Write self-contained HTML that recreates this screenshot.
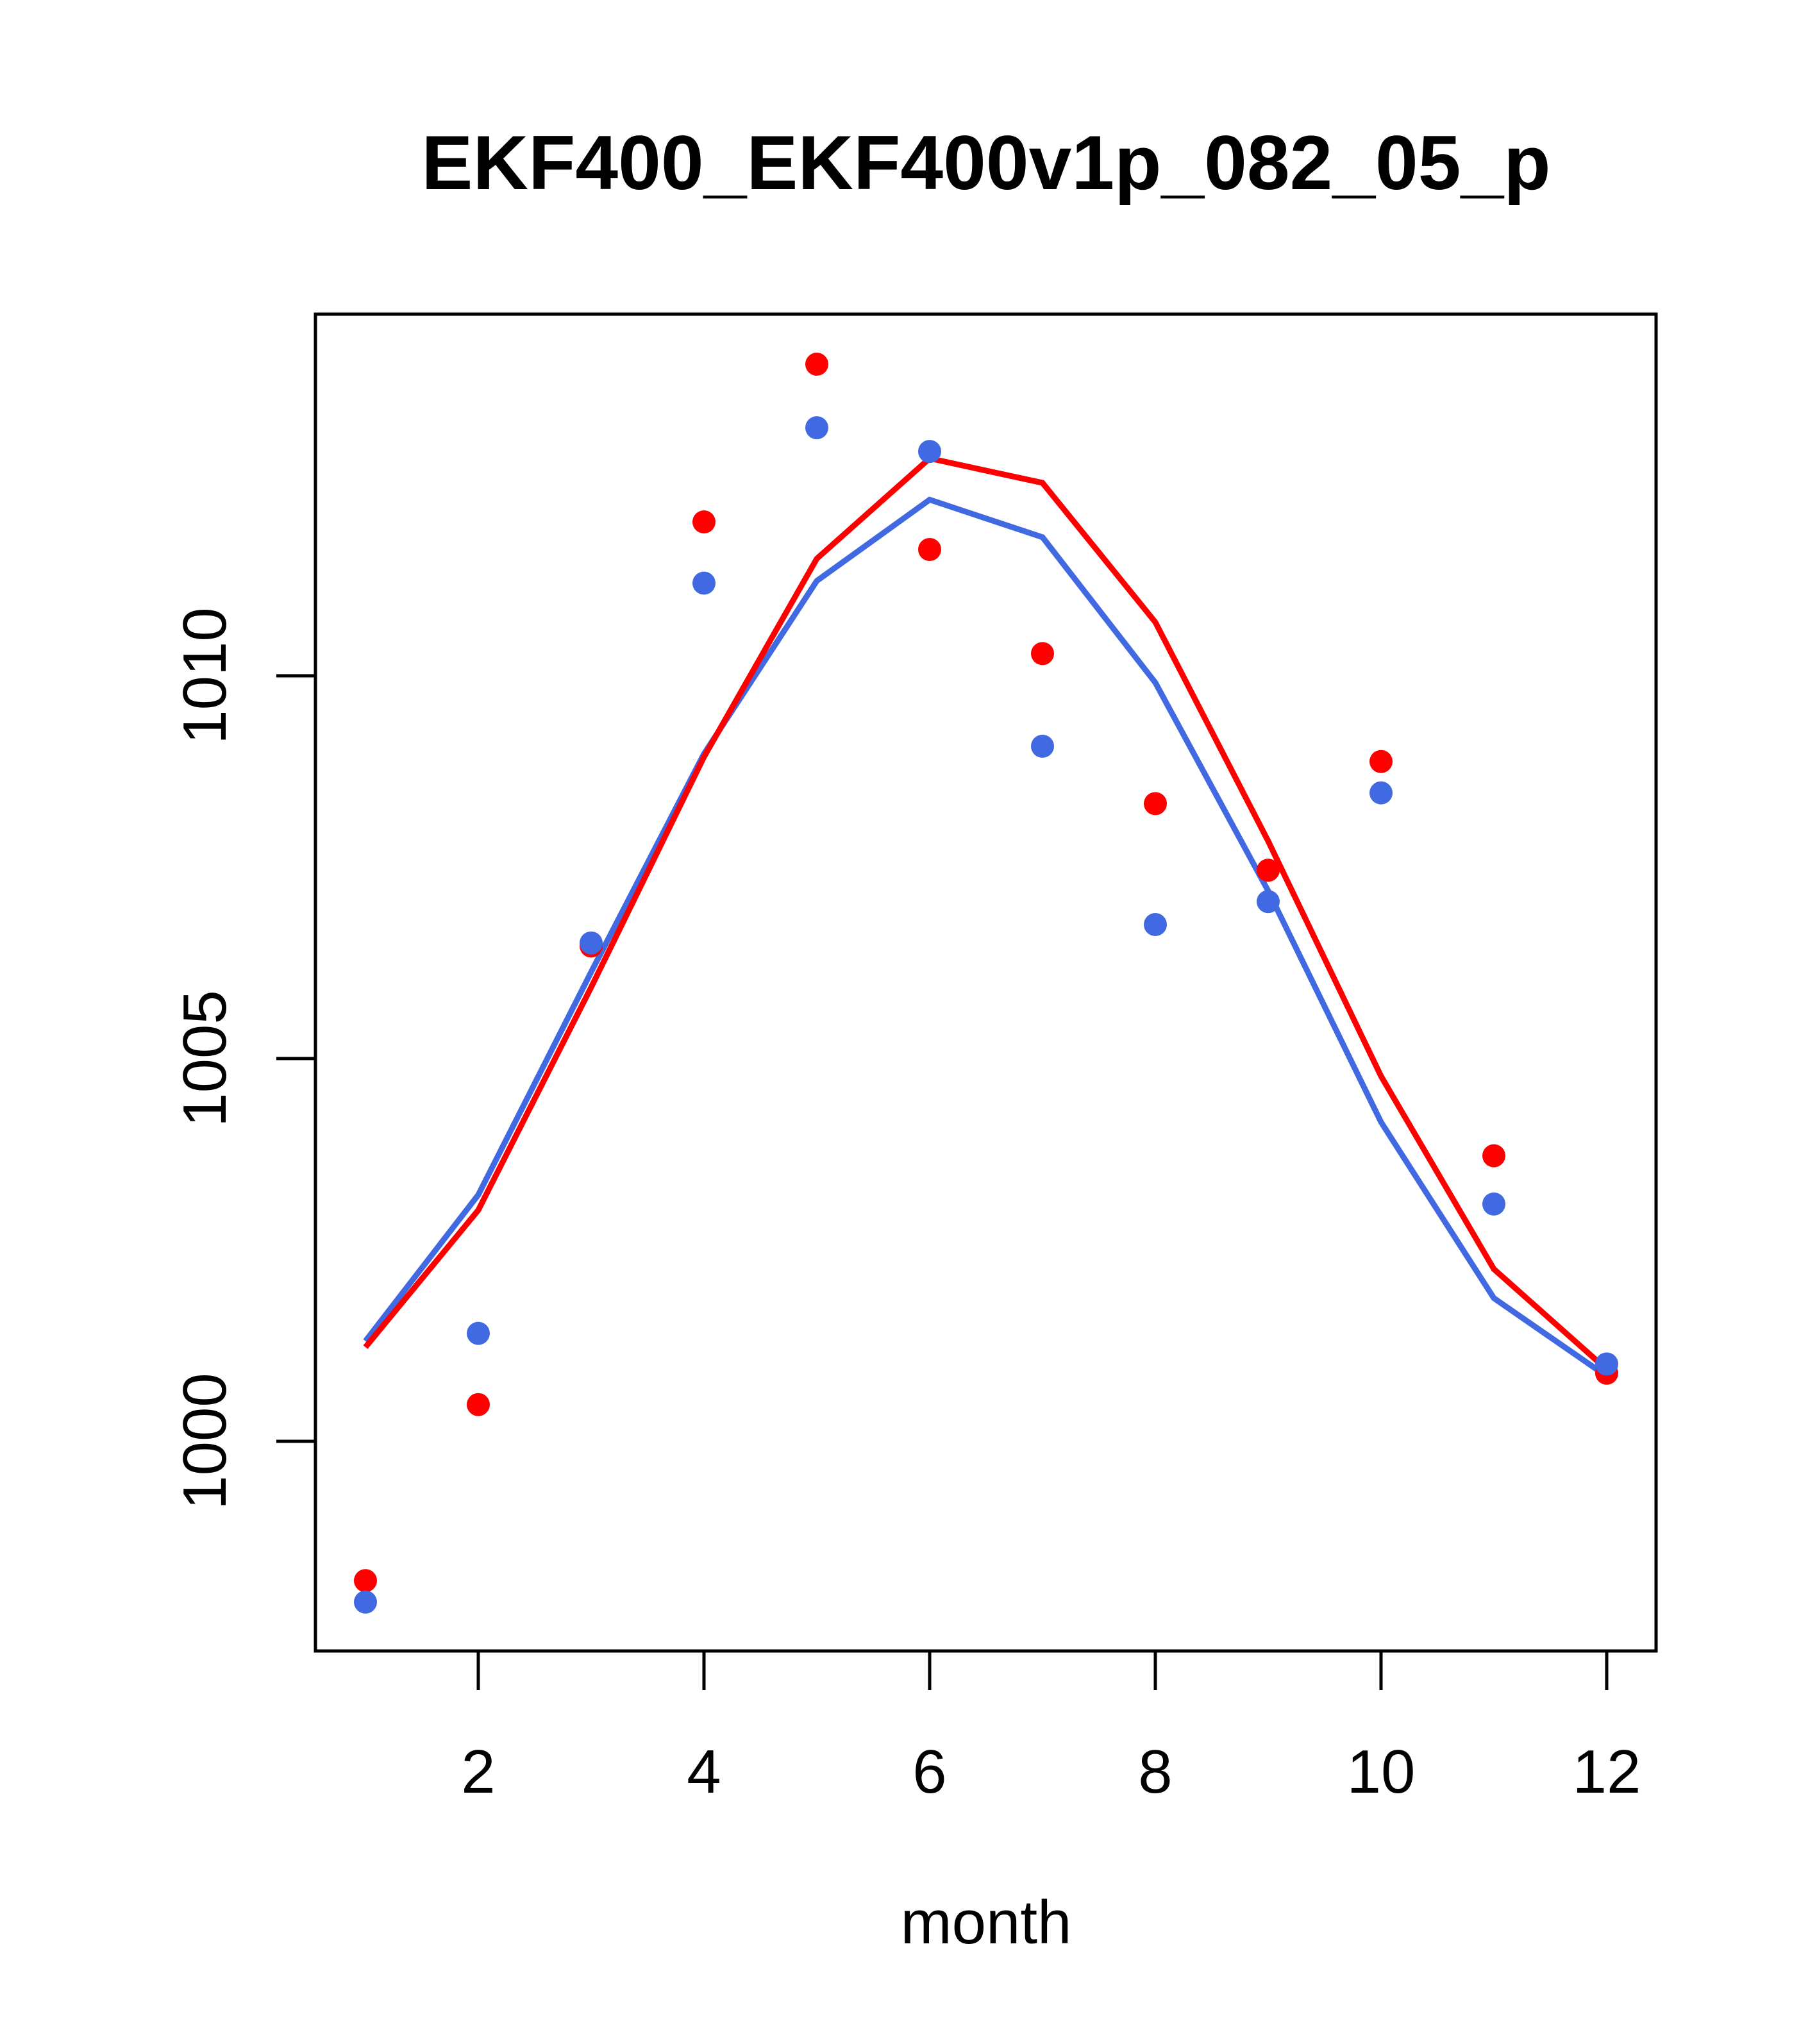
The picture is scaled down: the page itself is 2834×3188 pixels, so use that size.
<!DOCTYPE html>
<html><head><meta charset="utf-8"><style>html,body{margin:0;padding:0;background:#fff}svg{display:block}</style></head>
<body>
<svg id="chart" width="2834" height="3188" xmlns="http://www.w3.org/2000/svg" font-family="'Liberation Sans', sans-serif">
<rect width="2834" height="3188" fill="#fff"/>
<text x="1538" y="295" font-size="120" font-weight="bold" text-anchor="middle">EKF400_EKF400v1p_082_05_p</text>
<rect x="492" y="490" width="2091" height="2085" fill="none" stroke="#000" stroke-width="5"/>
<text x="1538" y="3031" font-size="96" text-anchor="middle">month</text>
<g id="axes"></g>
<g id="marks"></g>
</svg>
<script>
const months = [1,2,3,4,5,6,7,8,9,10,11,12];
const redPoints = [998.18,1000.48,1006.47,1012.01,1014.07,1011.65,1010.29,1008.33,1007.46,1008.88,1003.73,1000.89];
const bluePoints = [997.90,1001.41,1006.51,1011.21,1013.24,1012.93,1009.08,1006.75,1007.05,1008.47,1003.10,1001.01];
const redLine = [1001.23,1003.02,1005.93,1008.94,1011.53,1012.84,1012.52,1010.70,1007.84,1004.77,1002.25,1000.94];
const blueLine = [1001.31,1003.22,1006.13,1008.98,1011.24,1012.30,1011.81,1009.91,1007.19,1004.17,1001.87,1000.85];
const xTicks = [2,4,6,8,10,12];
const yTicks = [1000,1005,1010];

const NS = "http://www.w3.org/2000/svg";
const xs = m => 570 + (m - 1) * (2506 - 570) / 11;
const ys = v => 2248 - (v - 1000) * (2248 - 1054) / 10;
const axes = document.getElementById('axes');
const marks = document.getElementById('marks');
function mk(tag, attrs, parent) {
  const e = document.createElementNS(NS, tag);
  for (const k in attrs) e.setAttribute(k, attrs[k]);
  parent.appendChild(e);
  return e;
}
xTicks.forEach(t => {
  const l = mk('line', {x1: xs(t), x2: xs(t), y1: 2575, y2: 2636, stroke: '#000', 'stroke-width': 5}, axes);
  
  
  const tx = mk('text', {x: xs(t), y: 2796, 'font-size': 96, 'text-anchor': 'middle'}, axes);
  tx.textContent = t;
  
  
});
yTicks.forEach(t => {
  const l = mk('line', {x1: 431, x2: 492, y1: ys(t), y2: ys(t), stroke: '#000', 'stroke-width': 5}, axes);
  
  
  const tx = mk('text', {x: 0, y: 0, 'font-size': 96, 'text-anchor': 'middle', transform: `translate(352,${ys(t)}) rotate(-90)`}, axes);
  tx.textContent = t;
  
  
});
function drawLine(vals, color, name) {
  const p = mk('polyline', {points: vals.map((v, i) => xs(months[i]) + ',' + ys(v)).join(' '), fill: 'none', stroke: color, 'stroke-width': 9}, marks);
  
  
}
function drawPoints(vals, color, name) {
  vals.forEach((v, i) => {
    const c = mk('circle', {cx: xs(months[i]), cy: ys(v), r: 18, fill: color}, marks);
    
    
  });
}
drawLine(blueLine, '#4169E1', 'blue-line');
drawLine(redLine, '#FF0000', 'red-line');
drawPoints(redPoints, '#FF0000', 'red-point');
drawPoints(bluePoints, '#4169E1', 'blue-point');
</script>
</body></html>
